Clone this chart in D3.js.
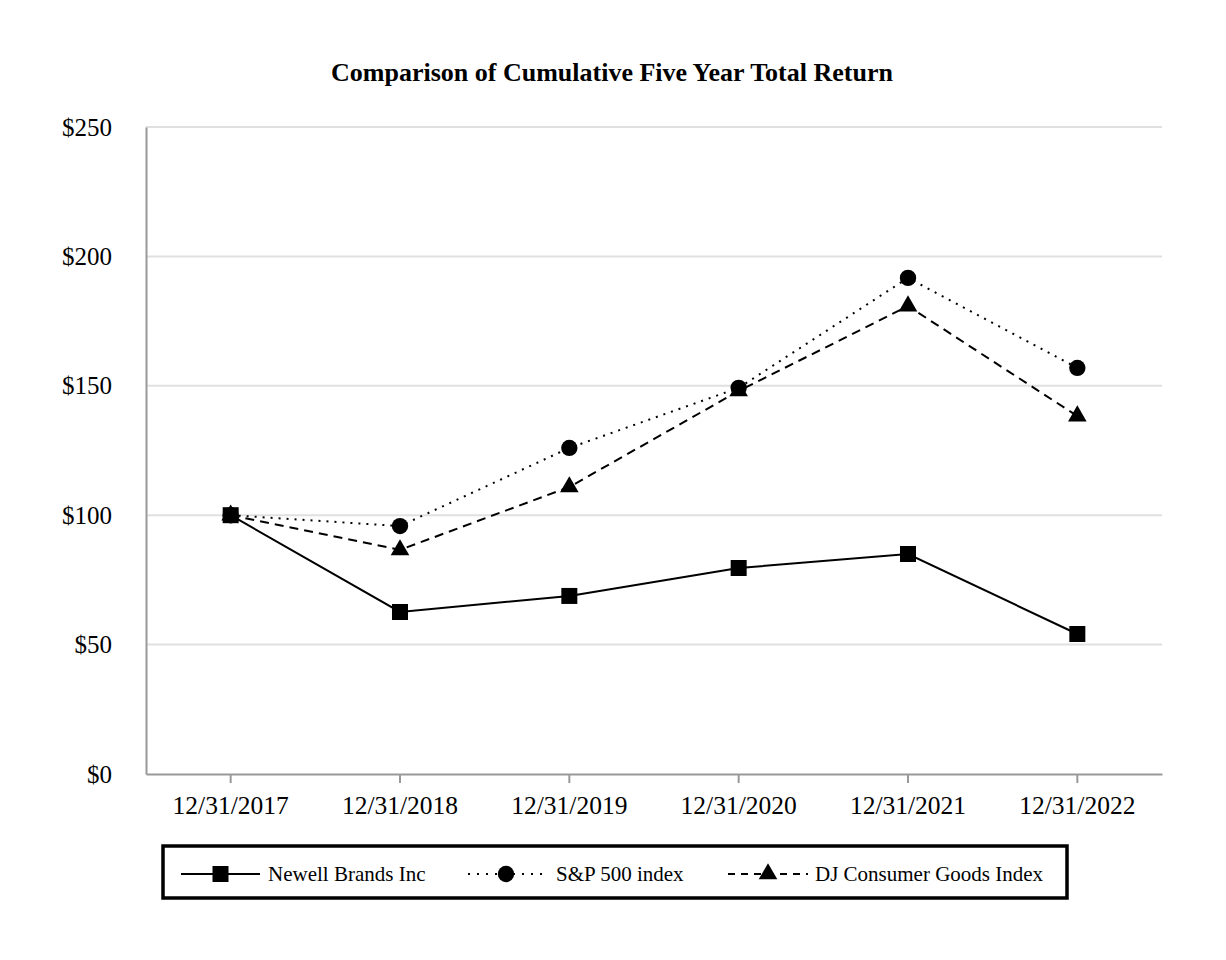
<!DOCTYPE html>
<html><head><meta charset="utf-8">
<script src="https://cdn.jsdelivr.net/npm/d3@7"></script>
<style>body{margin:0;background:#fff;} svg{display:block;}</style>
</head><body>
<script>
const categories = ["12/31/2017","12/31/2018","12/31/2019","12/31/2020","12/31/2021","12/31/2022"];
const newell = [100, 62.6, 68.8, 79.6, 85.0, 54.1];
const sp500 = [100, 95.8, 126.0, 149.2, 191.7, 156.9];
const djcg = [100, 86.6, 110.9, 148.0, 180.8, 138.3];
const yTicks = [0, 50, 100, 150, 200, 250];
const seriesNames = ["Newell Brands Inc", "S&P 500 index", "DJ Consumer Goods Index"];

(function () {
const W = 1226, H = 960;
const svg = d3.select("body").append("svg").attr("width", W).attr("height", H);
const font = "'Liberation Serif', 'Times New Roman', serif";
const pLeft = 146, pRight = 1162, pTop = 127, pBottom = 774;

const x = d3.scaleBand().domain(categories).range([pLeft, pRight]).padding(0);
const cx = d => x(d) + x.bandwidth() / 2;
const y = d3.scaleLinear().domain([0, 250]).range([pBottom, pTop]);

svg.append("text").attr("x", 612).attr("y", 81).attr("text-anchor", "middle")
  .attr("font-family", font).attr("font-weight", "bold").attr("font-size", 26)
  .text("Comparison of Cumulative Five Year Total Return");

svg.append("g").selectAll("line").data(yTicks.filter(t => t > 0)).join("line")
  .attr("x1", pLeft).attr("x2", pRight).attr("y1", d => y(d)).attr("y2", d => y(d))
  .attr("stroke", "#e0e0e0").attr("stroke-width", 2);

const yAxis = svg.append("g").attr("transform", `translate(${pLeft},0)`)
  .call(d3.axisLeft(y).tickValues(yTicks).tickSize(0).tickPadding(34).tickFormat(d => "$" + d));
yAxis.select(".domain").attr("stroke", "#999").attr("stroke-width", 2);
yAxis.selectAll("text").attr("font-family", font).attr("font-size", 25).attr("fill", "#000");

const xAxis = svg.append("g").attr("transform", `translate(0,${pBottom})`)
  .call(d3.axisBottom(x).tickSize(9).tickPadding(13).tickSizeOuter(0));
xAxis.select(".domain").attr("stroke", "#999").attr("stroke-width", 2);
xAxis.selectAll(".tick line").attr("stroke", "#999").attr("stroke-width", 2);
xAxis.selectAll("text").attr("font-family", font).attr("font-size", 25.5).attr("fill", "#000");

const series = [
  {name: seriesNames[0], values: newell, dash: null, sym: d3.symbolSquare, size: 256},
  {name: seriesNames[1], values: sp500, dash: "2,6", sym: d3.symbolCircle, size: 210},
  {name: seriesNames[2], values: djcg, dash: "9,6", sym: d3.symbolTriangle, size: 150}
];
const line = d3.line().x((d, i) => cx(categories[i])).y(d => y(d));

[...series].reverse().forEach(s => {
  svg.append("path").attr("d", line(s.values)).attr("fill", "none")
    .attr("stroke", "#000").attr("stroke-width", 2)
    .attr("stroke-dasharray", s.dash);
  svg.append("g").selectAll("path").data(s.values).join("path")
    .attr("transform", (d, i) => `translate(${cx(categories[i])},${y(d)})`)
    .attr("d", d3.symbol().type(s.sym).size(s.size)).attr("fill", "#000");
});

svg.append("rect").attr("x", 163).attr("y", 846).attr("width", 904).attr("height", 52)
  .attr("fill", "none").attr("stroke", "#000").attr("stroke-width", 3.5);
const legendPos = [{lx: 181, lw: 79, tx: 268}, {lx: 468, lw: 76, tx: 556}, {lx: 728, lw: 80, tx: 815}];
const ly = 874;
series.forEach((s, i) => {
  const p = legendPos[i];
  const g = svg.append("g");
  g.append("line").attr("x1", p.lx).attr("x2", p.lx + p.lw).attr("y1", ly).attr("y2", ly)
    .attr("stroke", "#000").attr("stroke-width", i === 1 ? 2 : 2)
    .attr("stroke-dasharray", i === 1 ? "2,7" : (i === 2 ? "7,6" : null));
  g.append("path").attr("transform", `translate(${p.lx + p.lw / 2},${ly})`)
    .attr("d", d3.symbol().type(s.sym).size(s.size)).attr("fill", "#000");
  g.append("text").attr("x", p.tx).attr("y", ly + 7).attr("font-family", font)
    .attr("font-size", 21).text(s.name);
});
})();
</script>
</body></html>
